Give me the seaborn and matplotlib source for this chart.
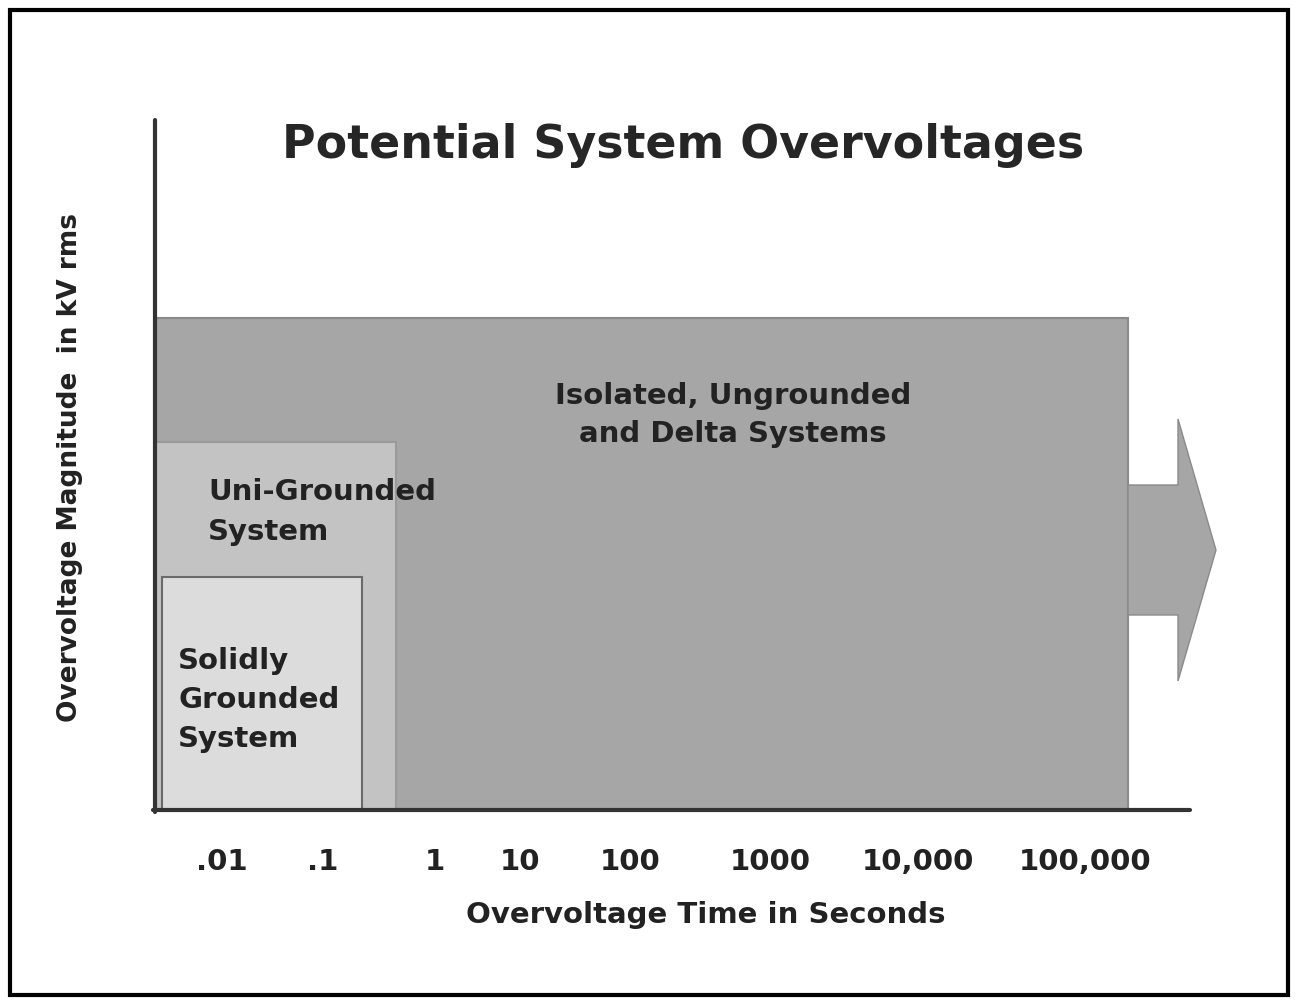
import matplotlib
matplotlib.use("Agg")
import matplotlib.pyplot as plt
import seaborn as sns
from matplotlib.patches import FancyArrow, Rectangle

sns.set_style("white")
plt.rcParams['font.family'] = ['DejaVu Sans']

# schematic layout in pixel-like units (x right, y down)
tick_labels = [".01", ".1", "1", "10", "100", "1000", "10,000", "100,000"]
tick_pos = [222, 323, 435, 520, 630, 770, 918, 1085]
regions = ["Isolated, Ungrounded\nand Delta Systems", "Uni-Grounded\nSystem", "Solidly\nGrounded\nSystem"]
region_left = [155, 155, 162]
region_right = [1128, 396, 362]
region_top = [318, 442, 577]
base = 810
colors = ["#a6a6a6", "#c3c3c3", "#dcdcdc"]
edges = ["#8a8a8a", "#9a9a9a", "#6a6a6a"]

fig = plt.figure(figsize=(13, 10.08), dpi=100)
ax = fig.add_axes([0, 0, 1, 1])
ax.set_xlim(0, 1300); ax.set_ylim(1008, 0); ax.axis("off")

ax.add_patch(Rectangle((10, 10), 1278, 985, fill=False, lw=3, ec="black"))

for l, r, t, c, e in zip(region_left, region_right, region_top, colors, edges):
    ax.bar(l, t - base, width=r - l, bottom=base, align="edge", color=c, edgecolor=e, lw=1.5)

ax.add_patch(FancyArrow(1128, 550, 50, 0, width=130, head_width=262, head_length=38,
                        length_includes_head=False, fc="#a6a6a6", ec="#8a8a8a", lw=1))

ax.plot([155, 155], [120, 812], color="#333333", lw=3)
ax.plot([153, 1190], [810, 810], color="#333333", lw=3)

ax.text(683, 145, "Potential System Overvoltages", ha="center", va="center", fontsize=33, fontweight="bold")
ax.text(733, 415, regions[0], ha="center", va="center", fontsize=21, fontweight="bold", color="#222222", linespacing=1.5)
ax.text(208, 512, regions[1], ha="left", va="center", fontsize=21, fontweight="bold", color="#222222", linespacing=1.5)
ax.text(178, 700, regions[2], ha="left", va="center", fontsize=21, fontweight="bold", color="#222222", linespacing=1.5)

for p, t in zip(tick_pos, tick_labels):
    ax.text(p, 862, t, ha="center", va="center", fontsize=21, fontweight="bold", color="#222222")
ax.text(706, 915, "Overvoltage Time in Seconds", ha="center", va="center", fontsize=21, fontweight="bold", color="#222222")
ax.text(70, 467, "Overvoltage Magnitude  in kV rms", ha="center", va="center", rotation=90,
        fontsize=19, fontweight="bold", color="#222222")

fig.savefig("out.png", dpi=100, facecolor="white")
